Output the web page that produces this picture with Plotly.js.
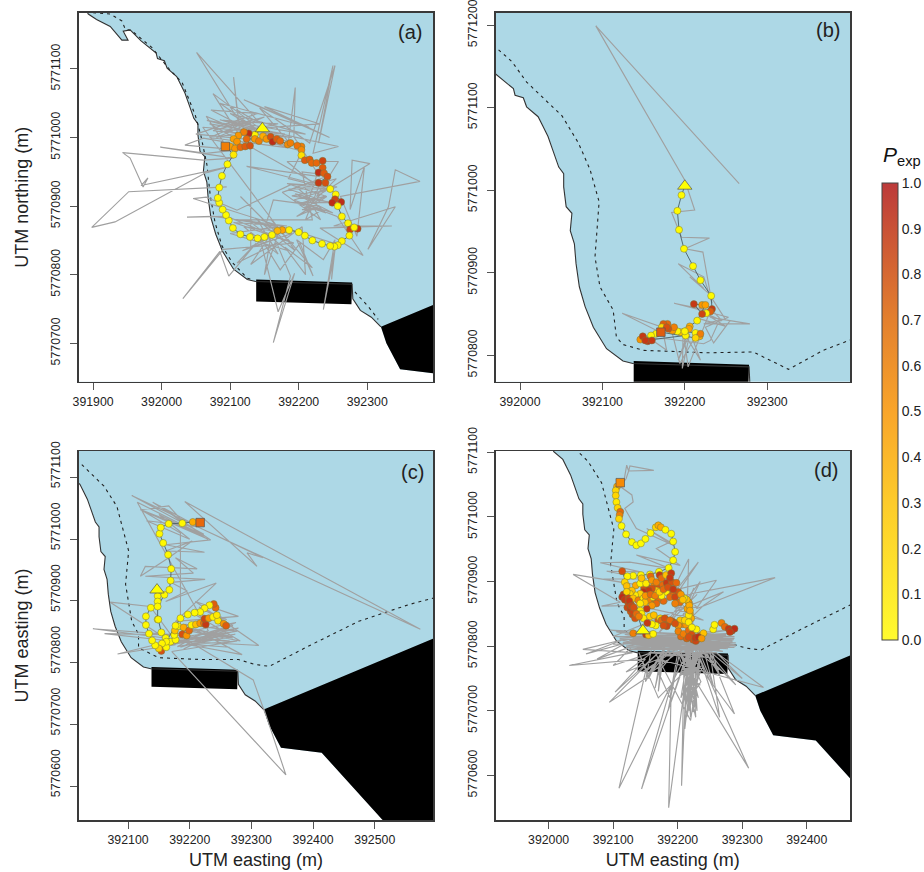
<!DOCTYPE html>
<html><head><meta charset="utf-8">
<script src="https://cdn.plot.ly/plotly-3.0.1.min.js"></script>
<style>html,body{margin:0;padding:0;background:#fff}</style></head>
<body><div id="chart" style="width:924px;height:872px"></div>
<script>
// All positions are metres relative to these UTM origins
const E0 = 392000, N0 = 5770000;

// Coastline (north to south)
const coastE = [-115,-107,-95,-75,-58,-49,-56,-46,-30,-20,-8,-6,4,8,22,28,34,40,47,53,53,56,63,61,66,68,72,79,89,105,125,137,278,279,290,306,320];
const coastN = [1195,1180,1172,1162,1142,1142,1155,1157,1141,1133,1123,1115,1112,1101,1089,1077,1065,1048,1028,1020,1004,980,972,951,935,911,883,859,834,808,793,790,786,765,748,738,724];
// Remaining outline of the white land, following the black area's lower edge
const landRestE = [328,348,414,512,600,600,-400,-400,-115];
const landRestN = [700,662,654,546,450,300,300,1400,1400];
// Black harbour area and pier
const harbourE = [320,328,348,414,512,600,800,800];
const harbourN = [724,700,662,654,546,450,450,925];
const pierE = [138,278,277,138];
const pierN = [793,788.5,757,761];

// Dashed isobaths
const dashAE = [-100,-75,-58,-53,-44,-14,10,30,49,57,66,71,78,88,103,125,135];
const dashAN = [1182,1180,1170,1158,1156,1131,1101,1080,1033,1004,961,915,876,842,818,795,792];
const dashAE2 = [282,302,316];
const dashAN2 = [775,753,735];
const dashBE = [-26,-10,8,51,71,85,96,91,97,113,117,125,150,227,283,326,368,402];
const dashBN = [1170,1156,1131,1090,1057,1025,986,919,883,855,822,813,806,803,804,783,806,819];
const dashCE = [25,61,82,101,96,106,117,117,150,220,279,306,329,393,474,555,600];
const dashCN = [1121,1086,1053,981,927,867,846,824,808,805,805,797,794,827,867,894,906];

// Panel (a)
const aGrayE1 = [95,-48,-102,-68,63,100,-30,-20,-27,-46,-57,61,105,-2,65,110,34,61,90,65,124,51,143,110,105,115,75,153,85,193,195,185,143,216,253,229,250,221,258,193,231,124,221,183,258,226,304,278,275,296,285,261,377,341,331,301,341,251,336,231,294,256,193,256,183,241,197,231,163,153,115,178,95,37,75,183,105,193,90,31,85,98,138,110,168,188,163,194,170,143,173,202,221,197,236,253,236,253,248,251,46,65,110,190,240,185,245,195,250,205,240,205,235,210,230,70,190,75,150,80,170,90,210,100,185,70,130,130,190,120,170,140,195];
const aGrayN1 = [928,921,869,877,948,958,930,941,928,970,978,967,970,986,977,982,989,999,994,1031,1006,1124,1021,1040,1088,1001,1064,1006,1026,1001,1073,994,1043,992,1105,992,1105,977,987,1001,943,958,933,965,965,914,962,967,895,958,856,914,936,953,899,837,899,871,871,868,828,885,909,928,933,914,885,900,909,876,914,851,885,884,885,871,876,846,837,765,834,798,846,817,846,798,701,802,746,856,807,846,798,851,822,851,749,837,793,846,911,913,894,932,925,925,905,918,890,905,915,895,895,880,930,1020,1000,1010,1030,1000,1020,1025,1005,1035,985,1000,1025,840,860,870,830,880,835];
const aGrayE2 = [60,180,66,200,50,140,72,170,85,215,120,245,150,230,95,205,185,245,190,250,195,240,200,255,210,228,215,232,176,246,205,220,110,170,100,185,125,190,118,170,150,160,130,205,210,180,220,160];
const aGrayN2 = [1015,1005,1025,990,1005,1035,1040,990,1050,1015,1055,1000,1045,1020,1010,980,940,925,915,905,905,890,925,940,895,950,910,880,920,945,950,880,880,870,860,835,880,860,835,860,800,860,815,870,800,840,810,880];
const aGrayE = aGrayE1.concat(aGrayE2), aGrayN = aGrayN1.concat(aGrayN2);
const aE = [136,127,120,112,105,110,100,107,115,122,129,124,136,142,148,153,159,162,168,173,184,188,204,198,204,204,209,216,219,226,235,235,229,237,242,229,239,246,254,262,253,249,257,263,272,275,286,281,274,263,257,252,246,234,220,209,200,186,176,169,161,150,140,129,115,104,98,94,89,84,82,84,88,96,105];
const aN = [1004,1006,1008,1003,998,994,987,984,986,987,988,998,998,995,1002,998,1001,994,998,995,990,992,987,988,982,974,967,968,963,963,966,956,949,948,943,934,934,925,917,906,910,905,900,885,875,866,867,869,857,849,843,841,842,845,850,857,862,865,865,864,858,855,853,855,859,868,879,887,895,905,912,927,944,961,975];
const aP = [.05,.95,.6,.5,.45,.5,.45,.5,.7,.75,.8,.7,.5,.6,.4,.5,.8,.95,.75,.7,.55,.6,.6,.65,.55,.15,.75,.75,.7,.7,.85,.75,.95,.75,.8,.9,.8,.05,.05,.95,.85,.95,.05,.05,.05,.85,.9,.05,.05,.05,.05,.02,.05,.03,.02,.03,.03,.05,.45,.35,.03,.03,.03,.03,.03,.03,.02,.02,.02,.02,.02,.02,.02,.03,.1];
const aStart = [147,1013], aEnd = [93,987], aEndP = .6;

// Panel (b)
const bGrayE = [266,92,200,212,184,190,196,230,200,222,233,223,192,223,206,229,249,223,279,231,255,235,225,253,187,231,204,198,197,206,192,202,219,210,194,184,124,174,178,158,178,223,231,240,215,250,222,245,228];
const bGrayN = [1008,1199,1012,976,973,958,943,942,929,925,863,895,911,881,895,875,844,838,838,846,842,815,834,846,863,854,786,830,784,826,794,822,794,818,790,830,851,826,806,820,820,814,818,838,845,835,852,842,860];
const bE = [196,191,193,199,210,219,232,233,231,226,221,211,221,225,215,206,205,200,195,191,185,187,180,179,174,172,178,171,165,159,150,146,149,155,160,152,201,200,213,218,219,213];
const bN = [994,975,952,929,908,891,872,856,853,851,850,862,861,861,842,835,832,829,828,829,830,834,832,838,838,834,834,828,826,824,821,819,823,817,818,818,824,829,827,823,826,821];
const bP = [.02,.02,.02,.02,.02,.02,.02,.9,.75,.05,.85,.9,.5,.45,.05,.4,.45,.05,.3,.05,.5,.6,.8,.7,.75,.2,.8,.05,.05,.05,.05,.5,.9,.95,.9,.9,.05,.05,.05,.4,.6,.2];
const bStart = [200,1005], bEnd = [171,828], bEndP = .75;

// Panel (c)
const cGrayE1 = [228,574,192,309,293,319,228,106,223,120,166,193,152,234,161,224,161,204,166,120,128,212,177,206,128,225,170,196,161,243,177,279,209,312,177,277,193,285,198,277,171,356,320,323,303,198,43,177,62,169,83,177,71,136,177,274,169,279,180,265,170,275,185,270,175,260,190,240,165,250,172,268,180,230];
const cGrayN1 = [1013,854,1061,956,978,970,1013,1071,1008,1048,1054,1024,1054,999,991,979,981,997,970,940,956,952,970,945,940,935,930,916,899,929,867,875,899,828,835,851,862,813,829,835,818,618,726,716,772,835,855,845,847,835,814,829,898,891,835,846,829,856,840,835,845,865,825,850,832,858,822,846,830,838,860,842,826,852];
const cGrayE2 = [115,205,125,225,140,215,130,200,150,230,120,185,185,270,180,282,205,260,215,270,195,265];
const cGrayN2 = [1060,1015,1045,1005,1060,1020,1030,1000,1040,1000,1048,1010,860,840,855,835,880,870,890,860,830,825];
const cGrayE = cGrayE1.concat(cGrayE2), cGrayN = cGrayN1.concat(cGrayN2);
const cE = [148,148,148,149,154,161,154,162,169,177,175,176,181,190,188,195,199,203,210,217,223,226,224,231,238,246,255,259,244,242,239,232,224,217,208,197,185,177,162,155,150,144,139,134,129,129,137,148,159,167,169,170,165,157,151,153,166,188,205];
const cN = [908,899,870,870,849,840,819,825,834,837,845,852,859,857,846,844,852,861,862,864,864,862,871,872,874,868,863,860,877,889,895,893,888,882,881,878,872,860,834,831,823,828,836,847,861,875,889,891,910,918,933,952,975,994,1009,1019,1025,1026,1028];
const cP = [.03,.03,.03,.03,.03,.03,.8,.03,.03,.03,.03,.3,.03,.4,.8,.5,.7,.05,.3,.5,.7,.9,.85,.5,.05,.1,.5,.75,.1,.7,.75,.05,.05,.03,.03,.03,.03,.05,.05,.05,.2,.03,.03,.03,.03,.03,.03,.03,.03,.03,.03,.03,.03,.03,.03,.03,.03,.03,.4];
const cStart = [147,918], cEnd = [217,1027], cEndP = .7;

// Panel (d)
const dGrayE1 = [116,121,124,126,163,124,120,111,129,131,118,136,193,152,188,167,204,136,188,126,80,142,90,152,85,142,38,111,82,126,351,229,260,204,232,183,217,214,240,271,100,290,115,288,95,285,120,280,130,287,140,275,110,283,150,270,125,265,160,290,105,260,135,285,145,270,170,280,118,255,165,278,180,260,155,250,110,288,100,285,120,290,130,275,105,280,140,286,115,270,150,288,125,278,135,265,219,186,190,144,215,206,210,109,150,195,310,235,224,215,211,225,230,218,220,212,232,205,228,222,208,230,215,240,205,235,212,240,205,218,226,200,235,215,225,288,250,265,228,195,170,188,200,160,190,180,170,175,150,94,170,103,150,32,130,53,115,58,120,75,130,100,160,120,170,333,260,300,240,290,250,190,230,195,240,150,215,170,230,180,235,205,225,195,222];
const dGrayN1 = [1052,1080,1071,1079,1072,1071,1059,1047,1034,1023,1013,982,956,982,961,951,925,941,920,930,929,915,916,904,904,894,911,868,862,863,906,858,902,889,930,868,935,837,863,884,815,805,805,815,825,798,800,825,812,810,795,800,812,820,805,812,795,795,815,800,822,805,808,808,818,792,800,815,818,798,795,805,785,790,790,782,810,812,803,806,798,802,820,817,815,800,805,820,806,815,812,798,809,796,802,804,800,550,740,579,790,584,780,580,760,800,611,780,698,800,672,790,700,780,690,800,720,790,690,800,710,790,720,770,760,740,740,800,720,800,715,790,760,700,780,695,790,690,800,790,760,720,790,760,800,800,730,790,750,713,790,729,780,770,790,795,810,788,805,780,800,770,790,760,780,736,790,750,800,740,780,900,860,860,840,860,880,820,880,830,900,840,890,810,870];
const dGrayE2 = [225,212,231,216,236,210,222,229,214,233,218,226,211,237,220,160,150,175,165,180,155,140,170,250,265,240,255,230,270,220,185,205,145,190];
const dGrayN2 = [800,705,790,715,745,800,740,800,690,780,700,790,735,800,685,800,745,790,735,800,750,790,720,800,755,795,740,800,760,800,700,800,760,790];
const dGrayE = dGrayE1.concat(dGrayE2), dGrayN = dGrayN1.concat(dGrayN2);
const dChainE = [106,104,104,105,107,111,110,109,113,120,129,136,143,150,158,166,170,174,181,190,193,196,193,186,171,157,143,131,122,114];
const dChainN = [1047,1041,1033,1023,1014,1008,1003,997,986,973,961,956,959,966,975,984,987,984,980,974,962,946,933,921,915,911,910,909,908,916];
const dChainP = [.4,.2,.2,.1,.2,.7,.6,.2,.02,.02,.02,.02,.02,.02,.02,.2,.4,.4,.02,.02,.02,.02,.02,.02,.02,.05,.05,.05,.05,.8];
const dRowsE = [
  [120,123,126,128,130,133,136,116,122,127],
  [158,163,168,172,177,185,188,193,178,170,165,152,158,148],
  [215,219,221,217,214,216],
  [178,185,192,199,207,213,170],
  [205,214,224,231,236,228,240],
  [118,121,135,142,144,151,160,167,175,183,191,198,182,190,188],
  [201,182,167,160,155,147,142,134,129,126,121],
  [114,118,124,131,139,147,155,162,170,175,188,196,203,210],
  [218,196,167,160,152,149,142,124],
  [127,131,134,142,144,147,157,163,173,175,180,188,204,211,217,219],
  [217,201,196,183,178,166,160,153],
  [131,151,155,162,201,209,217,222,227,232,237,229,222,217],
  [255,257,268,273,279,284,288,281],
  [125,128,132,136,140,150,158,165,172,178,185,193,205,208]];
const dRowsN = [
  [878,870,868,864,849,856,847,880,860,854],
  [908,893,892,910,895,893,884,880,870,880,872,892,876,890],
  [858,850,843,868,872,840],
  [838,836,838,836,834,833,840],
  [815,812,810,811,816,808,820],
  [899,893,894,897,905,897,902,899,905,898,899,898,910,913,906],
  [884,884,886,889,886,884,881,879,886,881,884],
  [876,872,874,874,871,874,871,876,874,878,876,876,868,874],
  [863,866,866,863,858,868,866,866],
  [858,853,843,855,850,843,846,848,843,840,843,840,840,840,848,855],
  [837,832,835,831,832,832,834,836],
  [820,818,817,819,823,819,824,818,813,814,812,826,829,814],
  [826,833,836,830,827,824,827,822],
  [870,862,860,850,846,878,880,878,884,888,891,888,880,872]];
const dRowsP = [
  [.9,.85,.9,.8,.85,.8,.75,.9,.85,.8],
  [.7,.6,.8,.9,.7,.8,.6,.7,.7,.3,.6,.9,.8,.8],
  [.45,.45,.4,.5,.3,.35],
  [.8,.75,.85,.7,.6,.5,.75],
  [.7,.75,.8,.9,.6,.85,.3],
  [.2,.3,.4,.05,.3,.1,.5,.6,.7,.9,.8,.7,.3,.9,.9],
  [.8,.05,.3,.8,.9,.95,.2,.1,.3,.2,.2],
  [.95,.9,.85,.3,.6,.1,.6,.05,.7,.05,.7,.85,.7,.05],
  [.4,.6,.7,.5,.9,.3,.1,.85],
  [.9,.85,.8,.1,.1,.1,.2,.3,.2,.7,.8,.7,.3,.2,.1,.4],
  [.1,.5,.8,.85,.8,.05,.05,.9],
  [.6,.9,.3,.05,.6,.6,.7,.8,.9,.95,.5,.05,.05,.8],
  [.05,.05,.6,.7,.9,.95,.95,.9],
  [.9,.85,.8,.7,.6,.5,.7,.6,.2,.7,.8,.9,.5,.3]];
const dE = dChainE.concat(...dRowsE), dN = dChainN.concat(...dRowsN), dP = dChainP.concat(...dRowsP);
const dStart = [146,824], dEnd = [111,1053], dEndP = .55;

// Axis ticks
const ticksA = {x:[391900,392000,392100,392200,392300], y:[5770700,5770800,5770900,5771000,5771100]};
const ticksB = {x:[392000,392100,392200,392300], y:[5770800,5770900,5771000,5771100,5771200]};
const ticksC = {x:[392100,392200,392300,392400,392500], y:[5770600,5770700,5770800,5770900,5771000,5771100]};
const ticksD = {x:[392000,392100,392200,392300,392400], y:[5770600,5770700,5770800,5770900,5771000,5771100]};
const colorTicks = [0,.1,.2,.3,.4,.5,.6,.7,.8,.9,1];

const markerScale = [[0,'#FFFF00'],[.2,'#FFD500'],[.45,'#FFA000'],[.7,'#E8680C'],[1,'#B5201A']];
const barScale = [[0,'#FFFB2E'],[.3,'#FDCB2A'],[.5,'#F9A52A'],[.7,'#E3802E'],[1,'#BC3A3A']];

const W = 924, H = 872;
const e = a => a.map(v => v + E0), n = a => a.map(v => v + N0);

function panelTraces(sfx, dash, g, t, start, end, endP, lineE, lineN) {
  const base = {xaxis:'x'+sfx, yaxis:'y'+sfx, hoverinfo:'skip', showlegend:false, type:'scatter'};
  const tr = [];
  tr.push({...base, mode:'lines', x:e(coastE.concat(landRestE)), y:n(coastN.concat(landRestN)), fill:'toself', fillcolor:'#fff', line:{width:0}});
  tr.push({...base, mode:'lines', x:e(harbourE), y:n(harbourN), fill:'toself', fillcolor:'#000', line:{width:0}});
  tr.push({...base, mode:'lines', x:e(pierE), y:n(pierN), fill:'toself', fillcolor:'#000', line:{width:0}});
  tr.push({...base, mode:'lines', x:e(coastE), y:n(coastN), line:{color:'#333', width:1.1}});
  dash.forEach(d => tr.push({...base, mode:'lines', x:e(d[0]), y:n(d[1]), line:{color:'#222', width:1.1, dash:'3px,4px'}}));
  tr.push({...base, mode:'lines', x:e(g[0]), y:n(g[1]), line:{color:'#a0a0a0', width:1.15}});
  tr.push({...base, mode:'lines', x:e(lineE), y:n(lineN), line:{color:'#4a6068', width:.9}});
  tr.push({...base, mode:'markers', x:e(t[0]), y:n(t[1]), marker:{size:7, color:t[2], cmin:0, cmax:1, colorscale:markerScale, showscale:false, line:{color:'#77773f', width:.5}}});
  tr.push({...base, mode:'markers', x:e([end[0]]), y:n([end[1]]), marker:{symbol:'square', size:8.5, color:[endP], cmin:0, cmax:1, colorscale:markerScale, showscale:false, line:{color:'#555', width:.7}}});
  tr.push({...base, mode:'markers', x:e([start[0]]), y:n([start[1]]), marker:{symbol:'triangle-up', size:12.5, color:'#FFFF00', line:{color:'#555', width:.7}}});
  return tr;
}
const path = (s, arr, f) => [s].concat(arr, [f]);

const traces = [].concat(
  panelTraces('', [[dashAE,dashAN],[dashAE2,dashAN2]], [aGrayE,aGrayN], [aE,aN,aP], aStart, aEnd, aEndP, path(aStart[0],aE,aEnd[0]), path(aStart[1],aN,aEnd[1])),
  panelTraces('2', [[dashBE,dashBN]], [bGrayE,bGrayN], [bE,bN,bP], bStart, bEnd, bEndP, path(bStart[0],bE,bEnd[0]), path(bStart[1],bN,bEnd[1])),
  panelTraces('3', [[dashCE,dashCN]], [cGrayE,cGrayN], [cE,cN,cP], cStart, cEnd, cEndP, path(cStart[0],cE,cEnd[0]), path(cStart[1],cN,cEnd[1])),
  panelTraces('4', [[dashCE,dashCN]], [dGrayE,dGrayN], [dE,dN,dP], dStart, dEnd, dEndP, path(dEnd[0],dChainE,dStart[0]), path(dEnd[1],dChainN,dStart[1]))
);
// colour bar
traces.push({type:'scatter', mode:'markers', xaxis:'x', yaxis:'y', x:[null,null], y:[null,null], showlegend:false, hoverinfo:'skip',
  marker:{color:[0,1], cmin:0, cmax:1, colorscale:barScale, size:1, showscale:true,
    colorbar:{x:881.7/W, xanchor:'left', xpad:0, y:1-640/H, yanchor:'bottom', ypad:0, len:(640-183)/H, lenmode:'fraction', thickness:16, thicknessmode:'pixels',
      tickvals:colorTicks, ticktext:colorTicks.map(v=>v.toFixed(1)), ticks:'', ticklen:0, tickfont:{family:'Liberation Sans', size:14, color:'#222'}, outlinecolor:'#444', outlinewidth:1, borderwidth:0}}});

const axFont = {family:'Liberation Sans', size:12.3, color:'#222'};
function xax(anchor, l, r, range, vals, title) {
  const a = {anchor, domain:[l/W, r/W], range:range.map(v=>v+E0), tickmode:'array', tickvals:vals, ticktext:vals.map(String), ticks:'outside', ticklen:7, tickcolor:'#555', tickwidth:1, ticklabeloverflow:'allow', ticklabelstandoff:1,
    tickfont:axFont, showgrid:false, zeroline:false, showline:true, mirror:true, linecolor:'#3a3a3a', linewidth:1.5, fixedrange:true};
  if (title) a.title = {text:title, font:{family:'Liberation Sans', size:18, color:'#222'}, standoff:7};
  return a;
}
function yax(anchor, t, b, range, vals, shift, title) {
  const a = {anchor, domain:[1-b/H, 1-t/H], range:range.map(v=>v+N0), tickmode:'array', tickvals:vals, ticktext:vals.map(String), tickangle:-90, ticks:'outside', ticklen:7, tickcolor:'#555', tickwidth:1, ticklabeloverflow:'allow', ticklabelstandoff:5, ticklabelshift:shift,
    tickfont:axFont, showgrid:false, zeroline:false, showline:true, mirror:true, linecolor:'#3a3a3a', linewidth:1.5, fixedrange:true};
  if (title) a.title = {text:title, font:{family:'Liberation Sans', size:18, color:'#222'}, standoff:16};
  return a;
}
const panelLabel = (t,x,y) => ({text:t, xref:'paper', yref:'paper', x:x/W, y:1-y/H, xanchor:'center', yanchor:'middle', showarrow:false, font:{family:'Liberation Sans', size:20, color:'#222'}});

const layout = {
  width:W, height:H, margin:{l:0,r:0,t:0,b:0,pad:0,autoexpand:false}, paper_bgcolor:'#fff', plot_bgcolor:'#ADD8E6', showlegend:false,
  xaxis: xax('y',78.7,433,[-121,396],ticksA.x), yaxis: yax('x',12.7,381.7,[644,1182],ticksA.y,0,'UTM northing (m)'),
  xaxis2:xax('y2',495.7,850,[-29.5,400.5],ticksB.x), yaxis2:yax('x2',12.7,381.7,[768,1215],ticksB.y,-13.5),
  xaxis3:xax('y3',78.7,433.3,[20,595],ticksC.x,'UTM easting (m)'), yaxis3:yax('x3',451,820,[545,1143],ticksC.y,-11,'UTM easting (m)'),
  xaxis4:xax('y4',495.7,850,[-82,467],ticksD.x,'UTM easting (m)'), yaxis4:yax('x4',451,820,[531,1102],ticksD.y,-6.5),
  annotations:[panelLabel('(a)',410,32),panelLabel('(b)',828,30),panelLabel('(c)',412,472),panelLabel('(d)',826,470),
    {text:'<i>P</i><sub>exp</sub>', xref:'paper', yref:'paper', x:881/W, y:1-156/H, xanchor:'left', yanchor:'middle', showarrow:false, font:{family:'Liberation Sans', size:21, color:'#111'}}]
};
Plotly.newPlot('chart', traces, layout, {staticPlot:true, displayModeBar:false});
</script></body></html>
